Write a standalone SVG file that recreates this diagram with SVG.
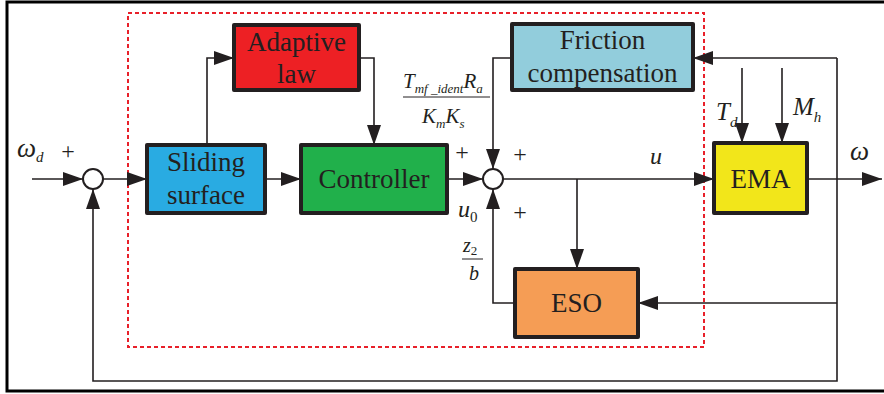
<svg xmlns="http://www.w3.org/2000/svg" width="884" height="394" viewBox="0 0 884 394">
<style>
text{font-family:'Liberation Serif','Times New Roman','DejaVu Serif',serif}
.box{stroke:#231f20;stroke-width:4;stroke-linejoin:round}
.lbl{font-size:27px;fill:#231f20;text-anchor:middle}
.mi{font-style:italic;fill:#231f20}
.pl{font-size:24px;fill:#231f20;text-anchor:middle}
.ln{fill:none;stroke:#231f20;stroke-width:1.6}
</style>
<defs>
<marker id="ah" viewBox="0 0 20 14" refX="20" refY="7" markerWidth="20" markerHeight="14" markerUnits="userSpaceOnUse" orient="auto">
<path d="M0,0 L20,7 L0,14 z" fill="#231f20"/>
</marker>
</defs>
<rect width="884" height="394" fill="#fff"/>
<path d="M884,2 H7 V391 H884" fill="none" stroke="#000" stroke-width="3"/>
<rect x="128" y="13" width="576" height="334" fill="none" stroke="#e8202a" stroke-width="2" stroke-dasharray="4 3"/>

<g id="connectors" class="ln">
<path d="M32,179 H83" marker-end="url(#ah)"/>
<path d="M103,179 H147" marker-end="url(#ah)"/>
<path d="M207,145 V58 H234" marker-end="url(#ah)"/>
<path d="M359,58 H374 V145" marker-end="url(#ah)"/>
<path d="M265,179 H301" marker-end="url(#ah)"/>
<path d="M447,179 H483" marker-end="url(#ah)"/>
<path d="M512,58 H493 V169" marker-end="url(#ah)"/>
<path d="M503,179 H714" marker-end="url(#ah)"/>
<path d="M577,179 V269" marker-end="url(#ah)"/>
<path d="M515,303 H493 V189" marker-end="url(#ah)"/>
<path d="M807,179 H882" marker-end="url(#ah)"/>
<path d="M837,58 H693" marker-end="url(#ah)"/>
<path d="M837,58 V381 H93 V189" marker-end="url(#ah)"/>
<path d="M837,303 H638" marker-end="url(#ah)"/>
<path d="M742,68 V143" marker-end="url(#ah)"/>
<path d="M782,68 V143" marker-end="url(#ah)"/>
</g>

<g id="sum1"><circle cx="93" cy="179" r="10" fill="#fff" stroke="#231f20" stroke-width="2"/></g>
<g id="sum2"><circle cx="493" cy="179" r="10" fill="#fff" stroke="#231f20" stroke-width="2"/></g>

<g id="adaptive">
<rect class="box" x="234" y="25" width="125" height="65" fill="#ed2024"/>
<text class="lbl" x="296.5" y="51">Adaptive</text>
<text class="lbl" x="296.5" y="83">law</text>
</g>
<g id="friction">
<rect class="box" x="512" y="24" width="181" height="66" fill="#92cddc"/>
<text class="lbl" x="602.5" y="49">Friction</text>
<text class="lbl" x="602.5" y="82">compensation</text>
</g>
<g id="sliding">
<rect class="box" x="147" y="145" width="118" height="68" fill="#29abe2"/>
<text class="lbl" x="206" y="171">Sliding</text>
<text class="lbl" x="206" y="204">surface</text>
</g>
<g id="controller">
<rect class="box" x="301" y="145" width="146" height="68" fill="#21b04b"/>
<text class="lbl" x="374" y="188">Controller</text>
</g>
<g id="ema">
<rect class="box" x="714" y="143" width="93" height="70" fill="#f2e61a"/>
<text class="lbl" x="760.5" y="188">EMA</text>
</g>
<g id="eso">
<rect class="box" x="515" y="269" width="123" height="68" fill="#f59d55"/>
<text class="lbl" x="576.5" y="312">ESO</text>
</g>

<g id="labels">
<text class="mi" x="17" y="157" font-size="27">ω<tspan font-size="15" dy="5">d</tspan></text>
<text class="pl" x="68" y="159">+</text>
<text class="pl" x="462" y="160">+</text>
<text class="pl" x="520" y="162">+</text>
<text class="pl" x="520" y="220">+</text>
<text class="mi" x="650" y="164" font-size="24">u</text>
<text class="mi" x="850" y="160" font-size="27">ω</text>
<text class="mi" x="716" y="120" font-size="25">T<tspan font-size="15" dy="7">d</tspan></text>
<text class="mi" x="793" y="115" font-size="25">M<tspan font-size="15" dy="7">h</tspan></text>
<text class="mi" x="458" y="217" font-size="24">u<tspan font-size="15" font-style="normal" dy="5">0</tspan></text>
<text class="mi" x="463" y="252" font-size="20">z<tspan font-size="13" font-style="normal" dy="3">2</tspan></text>
<line x1="462" y1="259" x2="483" y2="259" stroke="#231f20" stroke-width="1"/>
<text class="mi" x="469" y="280" font-size="20">b</text>
<text class="mi" x="403" y="88" font-size="21">T<tspan font-size="13" dy="5">mf _ident</tspan><tspan font-size="21" dy="-5">R</tspan><tspan font-size="13" dy="5">a</tspan></text>
<line x1="403" y1="97" x2="490" y2="97" stroke="#231f20" stroke-width="1"/>
<text class="mi" x="422" y="123" font-size="21">K<tspan font-size="13" dy="5">m</tspan><tspan font-size="21" dy="-5">K</tspan><tspan font-size="13" dy="5">s</tspan></text>
</g>
</svg>
